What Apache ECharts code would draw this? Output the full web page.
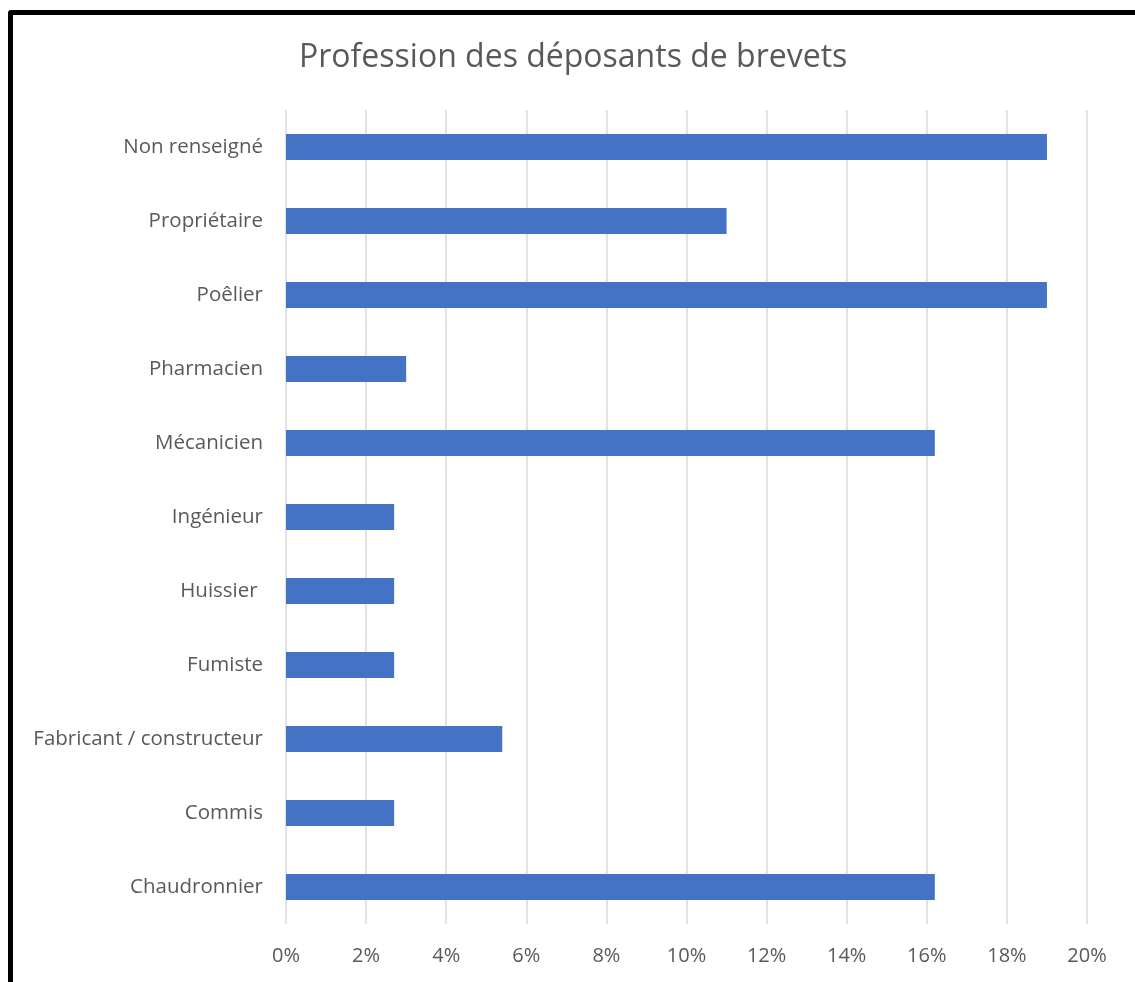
<!DOCTYPE html>
<html>
<head>
<meta charset="utf-8">
<script src="https://cdn.jsdelivr.net/npm/echarts@6/dist/echarts.min.js"></script>
<style>
  html, body { margin: 0; padding: 0; background: #fff; overflow: hidden; }
  #chart { position: absolute; left: 0; top: 0; width: 1135px; height: 982px; }
  #frame { position: absolute; left: 8px; top: 10px; width: 1200px; height: 1100px;
           border: 5px solid #000; border-radius: 3px; pointer-events: none; }
</style>
</head>
<body>
<div id="chart"></div>
<div id="frame"></div>
<script>
const categories = ['Non renseigné', 'Propriétaire', 'Poêlier', 'Pharmacien', 'Mécanicien',
  'Ingénieur', 'Huissier ', 'Fumiste', 'Fabricant / constructeur', 'Commis', 'Chaudronnier'];
const shares = [19, 11, 19, 3, 16.2, 2.7, 2.7, 2.7, 5.4, 2.7, 16.2];

const chart = echarts.init(document.getElementById('chart'), null, { renderer: 'canvas' });
const option = {
  animation: false,
  title: {
    text: 'Profession des déposants de brevets',
    left: 294,
    top: 37,
    textStyle: { fontFamily: 'Open Sans', fontSize: 32, fontWeight: 'normal', color: '#595959' }
  },
  grid: { left: 286, right: 48, top: 110, bottom: 58 },
  xAxis: {
    type: 'value',
    min: 0,
    max: 20,
    interval: 2,
    axisLine: { show: false },
    axisTick: { show: false },
    splitLine: { lineStyle: { color: '#d9d9d9', width: 1.5 } },
    axisLabel: { formatter: '{value}%', margin: 22, fontFamily: 'Open Sans', fontSize: 20, color: '#595959' }
  },
  yAxis: {
    type: 'category',
    inverse: true,
    data: categories,
    axisLine: { show: false },
    axisTick: { show: false },
    axisLabel: { margin: 23, fontFamily: 'Open Sans', fontSize: 20.5, color: '#595959' }
  },
  series: [{
    type: 'bar',
    data: shares,
    barWidth: 26,
    itemStyle: { color: '#4472C4' }
  }]
};
chart.setOption(option);
</script>
</body>
</html>
